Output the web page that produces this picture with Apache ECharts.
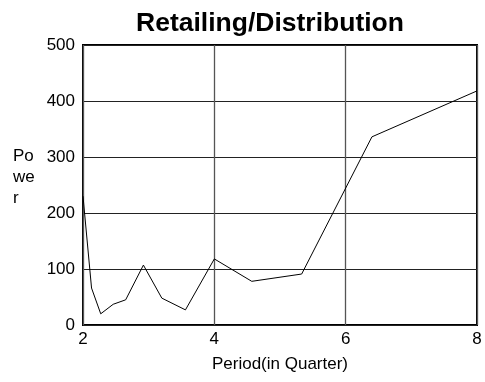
<!DOCTYPE html>
<html>
<head>
<meta charset="utf-8">
<style>
  html, body { margin: 0; padding: 0; background: #fff; }
  #chart { width: 485px; height: 382px; }
</style>
<script src="https://cdn.jsdelivr.net/npm/echarts@6/dist/echarts.min.js"></script>
</head>
<body>
<div id="chart"></div>
<script>
// Power by period (quarters) for Retailing/Distribution
const periods = [2.0, 2.13, 2.27, 2.46, 2.65, 2.92, 3.2, 3.56, 4.0, 4.57, 5.33, 6.4, 8.0];
const power   = [230, 66, 20, 37, 45, 107, 48, 27, 118, 78, 91, 336, 418];
const xTicks = [2, 4, 6, 8];
const yTicks = [0, 100, 200, 300, 400, 500];

const font = '"Liberation Sans", Arial, sans-serif';
const chart = echarts.init(document.getElementById('chart'), null, { renderer: 'canvas' });

chart.setOption({
  animation: false,
  backgroundColor: '#ffffff',
  grid: {
    left: 83, right: 8, top: 45, bottom: 57,
    show: true, borderColor: '#000', borderWidth: 2, backgroundColor: 'transparent'
  },
  xAxis: {
    type: 'value',
    min: xTicks[0], max: xTicks[xTicks.length - 1], interval: 2,
    name: 'Period(in Quarter)', nameLocation: 'middle', nameGap: 31,
    nameTextStyle: { fontFamily: font, fontSize: 17, color: '#000' },
    axisLine: { show: false },
    axisTick: { show: false },
    axisLabel: { fontFamily: font, fontSize: 17, color: '#000', margin: 6 },
    splitLine: { show: true, lineStyle: { color: '#555', width: 1.3 } }
  },
  yAxis: {
    type: 'value',
    min: yTicks[0], max: yTicks[yTicks.length - 1], interval: 100,
    axisLine: { show: false },
    axisTick: { show: false },
    axisLabel: { fontFamily: font, fontSize: 17, color: '#000', margin: 8 },
    splitLine: { show: true, lineStyle: { color: '#222', width: 1 } }
  },
  graphic: [
    {
      type: 'text', x: 270, y: 24,
      style: {
        text: 'Retailing/Distribution', font: 'bold 26.5px ' + font, fill: '#000',
        align: 'center', verticalAlign: 'middle'
      }
    },
    {
      type: 'text', left: 13, top: 146,
      style: { text: 'Po\nwe\nr', font: '17px ' + font, fill: '#000', lineHeight: 21 }
    }
  ],
  series: [{
    type: 'line',
    data: periods.map((p, i) => [p, power[i]]),
    symbol: 'none',
    lineStyle: { color: '#000', width: 1 },
    clip: true
  }]
});
</script>
</body>
</html>
